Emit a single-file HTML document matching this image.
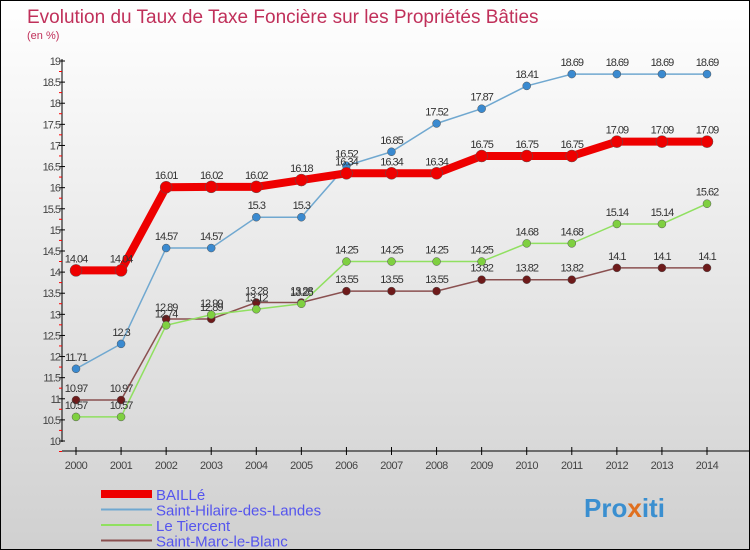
<!DOCTYPE html>
<html><head><meta charset="utf-8"><style>
body{margin:0}
#c{width:748px;height:548px;border:1px solid #000;background:linear-gradient(#fff,#d0d0d0);position:relative;overflow:hidden;font-family:"Liberation Sans",sans-serif}
</style></head><body>
<div id="c">
<svg id="s" width="748" height="548" xmlns="http://www.w3.org/2000/svg">
<text x="26" y="22" font-size="19" fill="#c0305a">Evolution du Taux de Taxe Foncière sur les Propriétés Bâties</text>
<text x="26" y="38" font-size="11" fill="#c0305a">(en %)</text>
<g id="axes"></g><g id="series"></g><g id="legend"></g>
<text x="583" y="516" font-size="26" font-weight="bold" fill="#3a8fd0">Pro<tspan fill="#e07020">x</tspan>iti</text>
</svg></div>
<script>
const years=[2000,2001,2002,2003,2004,2005,2006,2007,2008,2009,2010,2011,2012,2013,2014];
const yTicks=[10,10.5,11,11.5,12,12.5,13,13.5,14,14.5,15,15.5,16,16.5,17,17.5,18,18.5,19];
const seriesNames=["BAILLé","Saint-Hilaire-des-Landes","Le Tiercent","Saint-Marc-le-Blanc"];
const bailleValues=[14.04,14.04,16.01,16.02,16.02,16.18,16.34,16.34,16.34,16.75,16.75,16.75,17.09,17.09,17.09];
const hilaireValues=[11.71,12.3,14.57,14.57,15.3,15.3,16.52,16.85,17.52,17.87,18.41,18.69,18.69,18.69,18.69];
const tiercentValues=[10.57,10.57,12.74,12.99,13.12,13.25,14.25,14.25,14.25,14.25,14.68,14.68,15.14,15.14,15.62];
const marcValues=[10.97,10.97,12.89,12.89,13.28,13.28,13.55,13.55,13.55,13.82,13.82,13.82,14.1,14.1,14.1];
const NS="http://www.w3.org/2000/svg";
const xs=i=>75+i*(706-75)/(years.length-1);
const ys=v=>440-(v-10)*(380/9);
function mk(tag,attrs,parent){const e=document.createElementNS(NS,tag);for(const k in attrs)e.setAttribute(k,attrs[k]);parent.appendChild(e);return e;}
const ax=document.getElementById('axes');
let l=mk('line',{x1:61,y1:58,x2:61,y2:441,stroke:'#000'},ax);


l=mk('line',{x1:61,y1:450,x2:748,y2:450,stroke:'#000'},ax);


yTicks.forEach(v=>{const y=ys(v);
 mk('line',{x1:58,y1:y,x2:64,y2:y,stroke:'#000'},ax);
 mk('line',{x1:58,y1:y+10.5,x2:61,y2:y+10.5,stroke:'red'},ax);
 const t=mk('text',{x:59,y:y+4,'font-size':11,'text-anchor':'end',fill:'#444','letter-spacing':'-1'},ax);t.textContent=v;
 
 });
years.forEach((yr,i)=>{const x=xs(i);
 mk('line',{x1:x,y1:446,x2:x,y2:454,stroke:'#000'},ax);
 const t=mk('text',{x:x,y:468,'font-size':11,'text-anchor':'middle',fill:'#444','letter-spacing':'-0.5'},ax);t.textContent=yr;
 
 });
const sg=document.getElementById('series');
const defs=[[marcValues,'#6e1a1a','#8a5050',1.5,4,'saint-marc'],[tiercentValues,'#7fd040','#90e060',1.5,4,'le-tiercent'],[hilaireValues,'#3a8ad0','#70a8d0',1.5,4,'saint-hilaire'],[bailleValues,'#ee0000','#ee0000',8,6,'baille']];
defs.forEach(([vals,pc,lc,w,r,nm])=>{
 const g=mk('g',{},sg);
 
 
 const p=mk('polyline',{points:vals.map((v,i)=>xs(i)+','+ys(v)).join(' '),fill:'none',stroke:lc,'stroke-width':w},g);
 
 
 vals.forEach((v,i)=>{const c=mk('circle',{cx:xs(i),cy:ys(v),r:r,fill:pc,stroke:'#555','stroke-width':0.5},g);
  
  
  const t=mk('text',{x:xs(i),y:ys(v)-8,'font-size':11,'text-anchor':'middle',fill:'#333','letter-spacing':'-1'},g);t.textContent=v;
  
  });
});
const lg=document.getElementById('legend');
const lcol=['#ee0000','#70a8d0','#90e060','#8a5050'],lw=[8,2,2,2];
seriesNames.forEach((n,i)=>{const y=493+i*15.5;
 const g=mk('g',{},lg);
 
 
 mk('line',{x1:100,y1:y,x2:151,y2:y,stroke:lcol[i],'stroke-width':lw[i]},g);
 const t=mk('text',{x:155,y:y+6,'font-size':15,fill:'#5555ee'},g);t.textContent=n;});
</script>
</body></html>
